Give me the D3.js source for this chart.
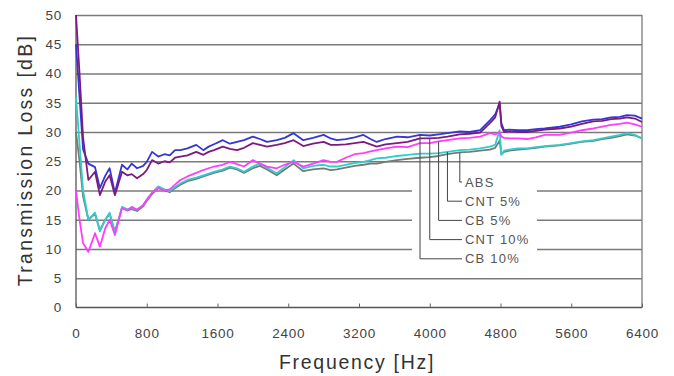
<!DOCTYPE html>
<html>
<head>
<meta charset="utf-8">
<script src="https://cdn.jsdelivr.net/npm/d3@7"></script>
<style>
  body { margin: 0; background: #fff; }
  .grid line { stroke: #7a7a7a; stroke-width: 1.3; }
  .grid path { display: none; }
  .tick-label { font-family: 'Liberation Sans', Arial, sans-serif; font-size: 13.5px; fill: #444; letter-spacing: 0.8px; }
  .axis-title { font-family: 'Liberation Sans', Arial, sans-serif; font-size: 19.5px; fill: #333; }
  .legend-label { font-family: 'Liberation Sans', Arial, sans-serif; font-size: 13px; fill: #555; letter-spacing: 1.2px; }
</style>
</head>
<body>
<div id="chart"></div>
<script>
// frequency points (Hz)
const freqs = [
  0, 40, 80, 140, 215, 270, 330, 380, 440, 520,
  580, 630, 690, 760, 800, 860, 930, 1000, 1060, 1120,
  1180, 1260, 1360, 1440, 1500, 1560, 1660, 1740, 1820, 1900,
  2000, 2080, 2160, 2270, 2360, 2460, 2570, 2680, 2800, 2880,
  2950, 3050, 3150, 3250, 3330, 3400, 3500, 3630, 3750, 3890,
  4000, 4100, 4200, 4340, 4450, 4570, 4680, 4740, 4790, 4810,
  4840, 4900, 5000, 5100, 5200, 5300, 5470, 5600, 5720, 5850,
  5950, 6050, 6150, 6230, 6320, 6400
];

// transmission loss [dB]
const cb10 = [
  45, 36, 27, 24.6, 24.0, 20.4, 22.5, 23.8, 19.6, 24.4,
  23.6, 24.6, 23.8, 24.2, 24.9, 26.6, 25.8, 26.2, 26.0, 26.9,
  26.9, 27.2, 27.8, 26.9, 27.5, 27.9, 28.6, 28.0, 28.3, 28.6,
  29.2, 28.8, 28.3, 28.6, 29.0, 29.8, 28.6, 29.0, 29.5, 28.9,
  28.6, 28.8, 29.1, 29.5, 28.8, 28.3, 28.8, 29.2, 29.1, 29.5,
  29.4, 29.6, 29.8, 30.1, 30.0, 30.3, 32.0, 33.0, 34.8, 31.5,
  30.3, 30.4, 30.3, 30.3, 30.5, 30.6, 30.9, 31.3, 31.8, 32.1,
  32.2, 32.5, 32.6, 32.9, 32.8, 32.3
];
const cnt10 = [
  50, 40, 29, 21.8, 23.2, 19.2, 21.5, 22.6, 19.2, 23.2,
  22.6, 22.8, 22.1, 22.8, 23.5, 25.2, 24.6, 25.0, 24.8, 25.6,
  25.8, 26.0, 26.6, 26.1, 26.6, 26.9, 27.5, 27.1, 26.9, 27.3,
  28.1, 27.8, 27.5, 27.8, 28.1, 28.6, 27.6, 28.0, 28.3, 27.8,
  27.8, 27.9, 28.1, 28.3, 27.9, 27.5, 27.9, 28.1, 28.3, 28.9,
  28.9, 29.0, 29.2, 29.6, 29.7, 29.9, 31.5, 32.5, 35.2, 31.0,
  30.0, 30.1, 30.0, 30.0, 30.2, 30.4, 30.6, 30.9, 31.4, 31.8,
  31.9, 32.2, 32.3, 32.5, 32.3, 31.7
];
const cb5 = [
  20, 15, 11, 9.5, 12.7, 10.4, 13.5, 15.0, 12.4, 17.0,
  16.6, 17.2, 16.7, 17.5, 18.4, 19.6, 20.4, 20.0, 20.2, 21.0,
  21.8, 22.4, 23.0, 23.5, 23.8, 24.1, 24.4, 24.9, 24.5, 24.1,
  25.2, 24.6, 24.1, 23.8, 24.4, 24.9, 24.1, 24.6, 25.2, 24.9,
  24.9, 25.6, 26.2, 26.4, 26.7, 26.9, 27.2, 27.5, 27.4, 28.1,
  28.1, 28.4, 28.6, 28.9, 29.0, 29.2, 29.8, 29.6, 30.0, 29.2,
  29.0, 28.9, 28.9, 28.8, 29.1, 29.5, 29.5, 29.9, 30.3, 30.6,
  30.9, 31.2, 31.4, 31.6, 31.3, 30.9
];
const cnt5 = [
  36, 28, 20, 15.0, 16.2, 13.0, 15.0, 16.2, 12.7, 17.2,
  16.8, 17.0, 16.7, 17.5, 18.4, 19.6, 20.7, 20.2, 19.9, 20.6,
  21.2, 21.8, 22.2, 22.6, 22.9, 23.2, 23.6, 24.1, 23.8, 23.2,
  24.1, 24.6, 23.9, 22.9, 24.0, 25.2, 23.8, 24.2, 24.4, 24.1,
  24.1, 24.4, 24.7, 24.9, 25.2, 25.5, 25.6, 25.9, 26.1, 26.3,
  26.3, 26.4, 26.6, 26.9, 27.0, 27.2, 27.5, 27.8, 30.3, 26.1,
  26.8, 27.0, 27.2, 27.2, 27.4, 27.6, 27.8, 28.1, 28.4, 28.6,
  28.9, 29.2, 29.5, 29.8, 29.5, 28.9
];
const abs = [
  30, 25, 19, 15.0, 16.0, 13.2, 15.0, 16.0, 13.0, 17.0,
  16.6, 16.8, 16.5, 17.3, 18.2, 19.4, 20.5, 20.0, 19.7, 20.4,
  21.0, 21.6, 22.0, 22.4, 22.7, 23.0, 23.4, 23.9, 23.6, 23.0,
  23.8, 24.2, 23.6, 22.6, 23.6, 24.6, 23.3, 23.6, 23.8, 23.5,
  23.6, 23.9, 24.2, 24.4, 24.6, 24.6, 24.9, 25.2, 25.4, 25.6,
  25.7, 25.9, 26.2, 26.5, 26.6, 26.8, 27.0, 27.3, 28.5, 26.2,
  26.6, 26.8, 27.0, 27.1, 27.3, 27.5, 27.7, 28.0, 28.3, 28.5,
  28.8, 29.0, 29.3, 29.6, 29.4, 28.9
];

const xTicks = [0, 800, 1600, 2400, 3200, 4000, 4800, 5600, 6400];
const yTicks = [0, 5, 10, 15, 20, 25, 30, 35, 40, 45, 50];

// legend order (top to bottom) and where its leader meets the curve
const legendNames = ['ABS', 'CNT 5%', 'CB 5%', 'CNT 10%', 'CB 10%'];
const legendFreqs = [4340, 4200, 4100, 4000, 3890];

const series = [
  { name: 'ABS', values: abs, color: '#6f7d76' },
  { name: 'CNT 5%', values: cnt5, color: '#33cccc' },
  { name: 'CB 5%', values: cb5, color: '#ff3cff' },
  { name: 'CB 10%', values: cb10, color: '#3636d6' },
  { name: 'CNT 10%', values: cnt10, color: '#7d1a80' },
];

const width = 674, height = 376;
const marginLeft = 76, marginRight = 32, marginTop = 15, marginBottom = 68.5;

const svg = d3.select('#chart').append('svg')
  .attr('width', width).attr('height', height);

const x = d3.scaleLinear().domain([0, 6400]).range([marginLeft, width - marginRight]);
const y = d3.scaleLinear().domain([0, 50]).range([height - marginBottom, marginTop]);

// horizontal gridlines
svg.append('g')
  .attr('class', 'grid')
  .attr('transform', 'translate(' + marginLeft + ',0)')
  .call(d3.axisLeft(y).tickValues(yTicks.slice(1)).tickSize(-(x(6400) - marginLeft)).tickFormat(() => ''));

// right border
svg.append('line')
  .attr('x1', x(6400)).attr('x2', x(6400))
  .attr('y1', y(50)).attr('y2', y(0))
  .attr('stroke', '#7a7a7a').attr('stroke-width', 1.3);

// blank area behind the legend breaks the gridlines
svg.append('rect')
  .attr('x', 412).attr('y', 170)
  .attr('width', 125).attr('height', 92)
  .attr('fill', '#fff');

// axes lines
svg.append('line')
  .attr('x1', x(0)).attr('x2', x(0)).attr('y1', y(50)).attr('y2', y(0))
  .attr('stroke', '#555').attr('stroke-width', 1.3);
svg.append('line')
  .attr('x1', x(0)).attr('x2', x(6400)).attr('y1', y(0)).attr('y2', y(0))
  .attr('stroke', '#555').attr('stroke-width', 1.3);

// x axis ticks + labels
const gx = svg.append('g')
  .attr('transform', 'translate(0,' + y(0) + ')')
  .call(d3.axisBottom(x).tickValues(xTicks).tickFormat(d3.format('d'))
    .tickSizeInner(-4).tickSizeOuter(0).tickPadding(21));
gx.select('.domain').remove();
gx.selectAll('.tick line').attr('stroke', '#666');
gx.selectAll('.tick text').attr('class', 'tick-label').attr('fill', null);

// y axis labels
const gy = svg.append('g')
  .attr('transform', 'translate(' + marginLeft + ',0)')
  .call(d3.axisLeft(y).tickValues(yTicks).tickFormat(d3.format('d')).tickSize(0).tickPadding(14));
gy.select('.domain').remove();
gy.selectAll('.tick text').attr('class', 'tick-label').attr('fill', null);

// curves
const line = d3.line()
  .x((d, i) => x(freqs[i]))
  .y((d) => y(d));

svg.append('g').selectAll('path')
  .data(series)
  .enter()
  .append('path')
  .attr('fill', 'none')
  .attr('stroke', (d) => d.color)
  .attr('stroke-width', 1.8)
  .attr('stroke-linejoin', 'round')
  .attr('d', (d) => line(d.values));

// legend with leader lines
const legendTop = 182, legendStep = 19.2, labelX = 465;
const lg = svg.append('g');
legendNames.forEach((name, i) => {
  const s = series.find((d) => d.name === name);
  const fi = freqs.indexOf(legendFreqs[i]);
  const lx = x(legendFreqs[i]);
  const ly = legendTop + i * legendStep;
  lg.append('path')
    .attr('fill', 'none')
    .attr('stroke', '#444')
    .attr('stroke-width', 1)
    .attr('d', 'M' + lx + ',' + y(s.values[fi]) + 'V' + ly + 'H' + (labelX - 3));
  lg.append('text')
    .attr('class', 'legend-label')
    .attr('x', labelX)
    .attr('y', ly)
    .attr('dy', '0.35em')
    .text(name);
});

// axis titles
svg.append('text')
  .attr('class', 'axis-title')
  .attr('x', 357)
  .attr('y', 369)
  .attr('text-anchor', 'middle')
  .attr('letter-spacing', '1.7px')
  .text('Frequency [Hz]');

svg.append('text')
  .attr('class', 'axis-title')
  .attr('transform', 'translate(32,160) rotate(-90)')
  .attr('text-anchor', 'middle')
  .attr('letter-spacing', '2.3px')
  .text('Transmission Loss [dB]');
</script>
</body>
</html>
